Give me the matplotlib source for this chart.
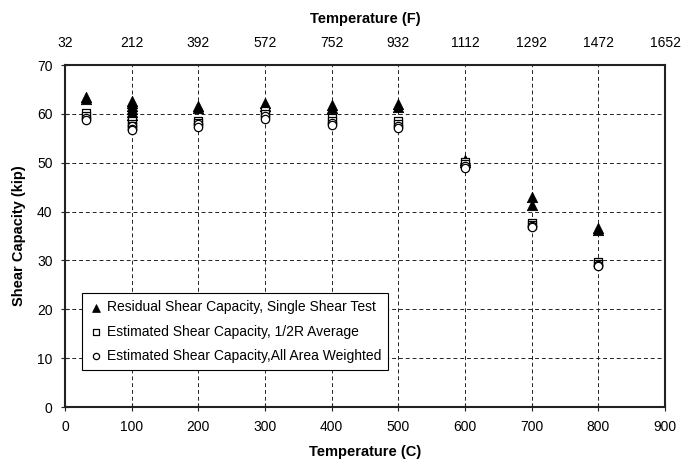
import matplotlib
matplotlib.use("Agg")
import matplotlib.pyplot as plt
from matplotlib.ticker import FixedLocator

plt.rcParams['font.family'] = ['Liberation Sans', 'DejaVu Sans']

# Residual shear capacity from single shear tests (kip) vs exposure temperature (C)
test_temp = [32, 32, 100, 100, 100, 100, 100, 100, 200, 200, 300, 300,
             400, 400, 500, 500, 600, 600, 700, 700, 800, 800]
test_cap = [63.5, 63.0, 62.7, 62.2, 61.6, 61.0, 60.4, 59.8, 61.6, 61.3, 62.2, 61.7,
            61.8, 61.3, 62.0, 61.5, 50.6, 50.2, 43.0, 41.3, 36.6, 36.3]

# Estimated shear capacity, 1/2R average
half_temp = [32, 32, 100, 100, 100, 200, 200, 300, 300, 400, 400, 500, 500,
             600, 600, 700, 700, 800, 800]
half_cap = [60.2, 59.6, 58.6, 58.0, 57.5, 58.6, 58.1, 60.6, 60.0, 59.1, 58.6,
            58.6, 58.0, 50.1, 49.8, 37.7, 37.2, 29.6, 29.3]

# Estimated shear capacity, all area weighted
area_temp = [32, 32, 100, 100, 100, 200, 200, 300, 300, 400, 400, 500, 500,
             600, 600, 700, 700, 800, 800]
area_cap = [59.2, 58.8, 57.6, 57.0, 56.7, 57.9, 57.3, 59.5, 59.0, 58.1, 57.7,
            57.6, 57.2, 49.4, 49.0, 37.1, 36.8, 29.1, 28.8]

c_ticks = [0, 100, 200, 300, 400, 500, 600, 700, 800, 900]
f_labels = ['32', '212', '392', '572', '752', '932', '1112', '1292', '1472', '1652']
y_ticks = [0, 10, 20, 30, 40, 50, 60, 70]

fig = plt.figure(figsize=(6.86, 4.66), dpi=100)
ax = fig.add_axes([0.0948, 0.1266, 0.8746, 0.7339])

ax.scatter(test_temp, test_cap, marker='^', s=55, c='black', edgecolors='black',
           linewidths=0.6, zorder=3, label='Residual Shear Capacity, Single Shear Test')
ax.scatter(half_temp, half_cap, marker='s', s=28, facecolors='white', edgecolors='black',
           linewidths=0.9, zorder=4, label='Estimated Shear Capacity, 1/2R Average')
ax.scatter(area_temp, area_cap, marker='o', s=36, facecolors='white', edgecolors='black',
           linewidths=0.9, zorder=4, label='Estimated Shear Capacity,All Area Weighted')

ax.set_xlim(0, 900)
ax.set_ylim(0, 70)
ax.set_xticks(c_ticks)
ax.set_yticks(y_ticks)
ax.grid(True, color='#222222', linestyle=(0, (4, 3)), linewidth=0.7)
ax.set_axisbelow(True)
for s in ax.spines.values():
    s.set_linewidth(1.5)
    s.set_color('#222222')
ax.tick_params(axis='x', labelsize=10, direction='inout', length=6, pad=6,
               color='#222222')
ax.tick_params(axis='y', labelsize=10, direction='inout', length=6, pad=6,
               color='#222222')
ax.set_xlabel('Temperature (C)', fontsize=10.5, fontweight='bold', labelpad=8)
ax.set_ylabel('Shear Capacity (kip)', fontsize=10.5, fontweight='bold', labelpad=8)

top = ax.twiny()
top.set_xlim(ax.get_xlim())
top.xaxis.set_major_locator(FixedLocator(c_ticks))
top.set_xticklabels(f_labels)
top.tick_params(axis='x', labelsize=10, length=0, pad=11)
top.set_xlabel('Temperature (F)', fontsize=10.5, fontweight='bold', labelpad=9)
for s in top.spines.values():
    s.set_visible(False)

leg = ax.legend(loc='lower left', bbox_to_anchor=(0.028, 0.108), fontsize=10,
                frameon=True, fancybox=False, edgecolor='black', framealpha=1,
                handletextpad=0.3, borderpad=0.5, labelspacing=0.75,
                handlelength=1.0, borderaxespad=0, markerscale=0.75)
leg.get_frame().set_linewidth(0.8)

fig.savefig('out.png', dpi=100)
